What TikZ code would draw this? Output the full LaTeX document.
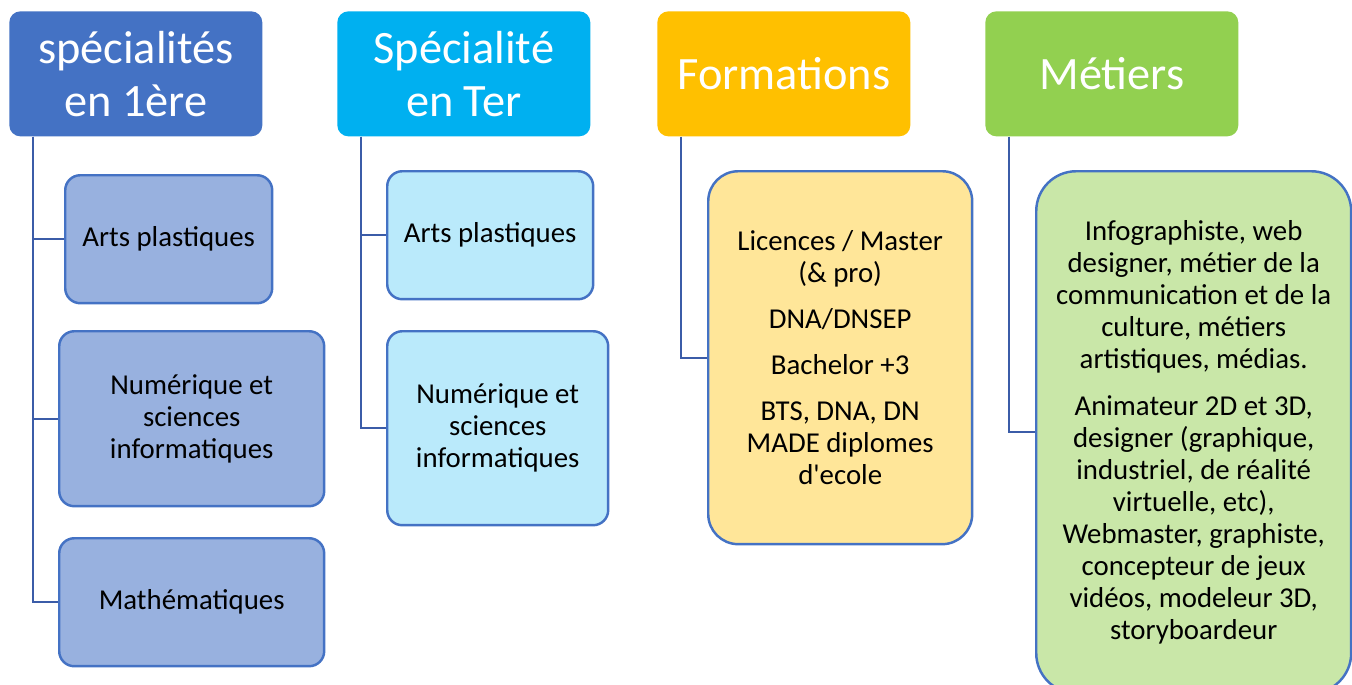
\documentclass[tikz,border=0pt]{standalone}
\usepackage{fontspec}
\setmainfont{Carlito}
\usepackage{xcolor}
\definecolor{premiereblue}{HTML}{4472C4}
\definecolor{terminalcyan}{HTML}{00B0F0}
\definecolor{formationgold}{HTML}{FFC000}
\definecolor{metiergreen}{HTML}{92D050}
\definecolor{linkblue}{HTML}{3B5CA8}
\usepackage{tikz}
\newcommand{\headfont}{\fontsize{26.4}{30}\selectfont}
\newcommand{\itemfont}{\fontsize{16.4}{18.2}\selectfont}
\tikzstyle{head}=[rectangle, rounded corners=0.22cm, minimum width=5.06cm, minimum height=2.5cm, inner sep=0pt, align=center, text=white, font=\headfont, anchor=north west]
\tikzstyle{premiere}=[head, fill=premiereblue]
\tikzstyle{terminale}=[head, fill=terminalcyan]
\tikzstyle{formation}=[head, fill=formationgold]
\tikzstyle{metier}=[head, fill=metiergreen]
\tikzstyle{item}=[rectangle, rounded corners=0.3cm, draw=premiereblue, line width=1.4pt, inner sep=0pt, align=center, text=black, font=\itemfont, anchor=north west]
\tikzstyle{link}=[line width=1.2pt, draw=linkblue]

\begin{document}
\begin{tikzpicture}[x=0.02cm, y=-0.02cm]
		\clip (0,0) rectangle (1352,684);
		\fill[white] (0,0) rectangle (1352,684);

		% column headers
		\node(h1)[premiere] at (9,11) {spécialités\\en 1ère};
		\node(h2)[terminale] at (337,11) {Spécialité\\en Ter};
		\node(h3)[formation] at (657,11) {Formations};
		\node(h4)[metier] at (985,11) {Métiers};

		% first year
		\node(a1)[item, fill=premiereblue!55, minimum width=4.14cm, minimum height=2.56cm] at (64,174) {Arts plastiques};
		\node(a2)[item, fill=premiereblue!55, minimum width=5.3cm, minimum height=3.5cm] at (58,330) {Numérique et\\sciences\\informatiques};
		\node(a3)[item, fill=premiereblue!55, minimum width=5.3cm, minimum height=2.56cm] at (58,537) {Mathématiques};

		% final year
		\node(b1)[item, fill=terminalcyan!27, minimum width=4.12cm, minimum height=2.56cm] at (386,170) {Arts plastiques};
		\node(b2)[item, fill=terminalcyan!27, minimum width=4.42cm, minimum height=3.88cm] at (386,330) {Numérique et\\sciences\\informatiques};

		% formations
		\node(c1)[item, fill=formationgold!40, rounded corners=0.6cm, minimum width=5.28cm, minimum height=7.46cm] at (707,170) {Licences / Master\\(\& pro)\\[8pt]DNA/DNSEP\\[8pt]Bachelor +3\\[8pt]BTS, DNA, DN\\MADE diplomes\\d\textquotesingle ecole};

		% metiers
		\node(d1)[item, fill=metiergreen!50, rounded corners=0.8cm, minimum width=6.3cm, minimum height=10.44cm] at (1035,170) {Infographiste, web\\designer, métier de la\\communication et de la\\culture, métiers\\artistiques, médias.\\[8.5pt]Animateur 2D et 3D,\\designer (graphique,\\industriel, de réalité\\virtuelle, etc),\\Webmaster, graphiste,\\concepteur de jeux\\vidéos, modeleur 3D,\\storyboardeur};

		\draw[link]([xshift=0.48cm]h1.south west) |- (a1.west);
		\draw[link]([xshift=0.48cm]h1.south west) |- (a2.west);
		\draw[link]([xshift=0.48cm]h1.south west) |- (a3.west);
		\draw[link]([xshift=0.48cm]h2.south west) |- (b1.west);
		\draw[link]([xshift=0.48cm]h2.south west) |- (b2.west);
		\draw[link]([xshift=0.48cm]h3.south west) |- (c1.west);
		\draw[link]([xshift=0.48cm]h4.south west) |- (d1.west);
\end{tikzpicture}
\end{document}
